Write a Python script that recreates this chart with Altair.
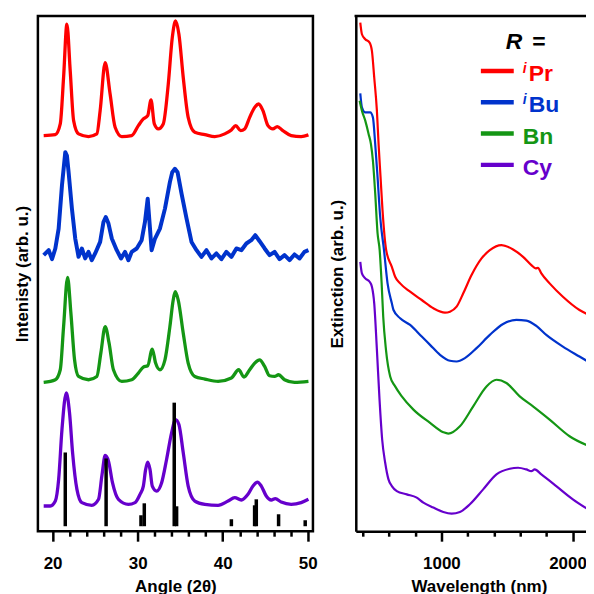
import altair as alt
import pandas as pd

FONT = "Liberation Sans"

# ---------------- series names / colours ----------------
names = ["iPr", "iBu", "Bn", "Cy"]
colors = ["#ff0000", "#0033cc", "#149614", "#6600cc"]
legend_sup = ["i", "i", "", ""]
legend_main = ["Pr", "Bu", "Bn", "Cy"]

# ---------------- XRD patterns (offset, arb. u.) ----------------
ipr_angle = [18.95, 20.32, 20.90, 21.29, 21.68, 22.07, 22.47, 23.05, 24.22, 25.20,
             25.59, 26.18, 26.76, 27.35, 28.13, 29.30, 30.08, 30.67, 31.18, 31.57,
             31.96, 32.43, 33.01, 33.60, 34.07, 34.46, 34.85, 35.36, 35.94, 36.72,
             37.90, 39.07, 40.24, 41.02, 41.53, 42.11, 42.58, 43.17, 43.76, 44.22,
             44.73, 45.32, 45.90, 46.41, 47.07, 48.05, 49.22, 50.08]
ipr_int = [397, 398, 408.7, 455.3, 508.7, 462, 412, 398.7, 396, 398.7,
           422, 470.3, 438.7, 405.3, 396, 397, 407, 413.7, 417, 432.7,
           408.7, 403.7, 408.7, 448.7, 495.3, 512, 498.7, 455.3, 415.3, 400.3,
           398, 396, 398.7, 402.7, 407, 402, 403.7, 415.3, 425.3, 428.7,
           422, 407, 403.7, 406, 402, 397, 396, 397.7]

ibu_angle = [18.95, 19.54, 19.93, 20.32, 20.71, 21.10, 21.49, 21.68, 21.88, 22.27,
             22.66, 23.05, 23.44, 23.83, 24.22, 24.61, 25.00, 25.59, 25.98, 26.25,
             26.57, 26.96, 27.54, 28.05, 28.52, 28.91, 29.30, 29.89, 30.47, 30.86,
             31.18, 31.45, 31.64, 32.04, 32.62, 33.21, 33.79, 34.07, 34.38, 34.69,
             35.16, 35.75, 36.33, 36.92, 37.50, 38.09, 38.68, 39.26, 39.85, 40.43,
             41.02, 41.61, 42.19, 42.78, 43.36, 43.83, 44.34, 44.93, 45.51, 46.10,
             46.68, 47.27, 47.86, 48.44, 49.03, 49.61, 50.08]
ibu_int = [277, 282, 273, 283.7, 303.7, 347, 380.3, 377, 360.3, 323.7,
           293.7, 275.3, 283.7, 273.7, 280.3, 272, 278.7, 290.3, 310.3, 315.3,
           308.7, 293.7, 282, 273.7, 280.3, 272, 280.3, 283.7, 292, 310.3,
           333.7, 303.7, 282, 293.7, 303.7, 323.7, 350.3, 360.3, 363.7, 360.3,
           338.7, 313.7, 290.3, 282, 275.3, 282, 273.7, 278.7, 273, 280.3,
           275.3, 283.7, 282, 288.7, 292, 297, 291, 283.7, 277, 280.3,
           273, 277, 272, 277.7, 273.7, 280.3, 282]

bn_angle = [18.95, 20.32, 20.90, 21.29, 21.76, 22.15, 22.58, 23.05, 24.22, 25.20,
            25.67, 26.18, 26.64, 27.15, 28.13, 29.30, 30.08, 30.67, 31.18, 31.72,
            32.11, 32.62, 33.21, 33.79, 34.18, 34.42, 34.77, 35.36, 35.94, 36.72,
            37.90, 39.46, 41.02, 41.88, 42.50, 43.17, 43.76, 44.34, 44.93, 45.51,
            46.10, 46.57, 47.27, 48.44, 50.08]
bn_int = [149.3, 152, 162, 205.3, 254.7, 218.7, 172, 155.3, 152, 155.3,
          178.7, 205.3, 188.7, 162, 150.3, 152, 158.7, 164.7, 166, 182.7,
          168.7, 162, 172, 205.3, 232, 240.3, 232, 198.7, 168.7, 155.3,
          152.7, 150.3, 153.7, 162, 154.7, 162, 168.7, 172, 165.3, 156,
          155.3, 157, 152, 149.3, 150.3]

cy_angle = [18.95, 19.73, 20.32, 20.71, 21.10, 21.61, 21.99, 22.35, 22.86, 23.44,
            24.61, 25.40, 25.79, 26.18, 26.57, 27.04, 27.74, 28.91, 29.69, 30.28,
            30.67, 30.94, 31.18, 31.45, 31.72, 32.23, 32.82, 33.40, 33.99, 34.46,
            34.85, 35.36, 35.94, 36.72, 37.90, 39.46, 40.63, 41.41, 42.19, 42.97,
            43.56, 44.07, 44.54, 45.12, 45.71, 46.18, 46.88, 48.05, 49.22, 50.08]
cy_int = [25.3, 25.3, 30.3, 52, 102, 138.7, 118.7, 78.7, 42, 28.7,
          26, 32, 55.3, 76, 70.3, 48.7, 32, 27, 28.7, 37,
          45.3, 62, 69.3, 62, 45.3, 40.3, 48.7, 72, 98.7, 112,
          107, 78.7, 45.3, 30.3, 27, 26, 30.3, 33.7, 31.3, 37,
          45.3, 49.3, 45.3, 35.3, 31.3, 32.7, 29.3, 27, 28.7, 32]

# reference pattern sticks
ref_angle = [21.49, 26.29, 30.39, 30.78, 34.30, 34.58, 41.02, 43.75, 43.95, 46.57, 49.70]
ref_top = [79, 73, 16, 28, 129, 25, 12, 26, 32, 17, 11]
ref_base = 5

# ---------------- extinction spectra (offset, arb. u.) ----------------
ipr_wl = [382.5, 395.1, 420.4, 453.3, 471, 488.6, 508.9, 521.5, 536.7, 551.8,
          579.6, 622.6, 647.8, 685.8, 761.6, 850, 938.5, 1026.9, 1064.8, 1115.3,
          1166, 1229, 1305, 1368, 1456.5, 1545, 1621, 1684, 1717, 1734.5,
          1760, 1823, 1924, 2050, 2156.5]
ipr_ext = [511.3, 499.7, 494.7, 491.3, 483, 456.3, 423, 390, 356.3, 323,
           283, 266.3, 256.3, 249.7, 241.3, 233, 224.7, 220.3, 221.3, 226.3,
           239.7, 258, 274.7, 283, 288, 283.7, 276.3, 268, 264.7, 265.3,
           259.7, 249.7, 236.3, 223, 216.3]

ibu_wl = [382.5, 395, 420, 458, 478.5, 496, 514, 534, 563, 590,
          622.6, 635.2, 685.8, 761.6, 850, 913.2, 989, 1064.8, 1115.3, 1178.5,
          1267, 1368, 1469, 1570, 1646, 1722, 1797.6, 1924, 2050, 2156.5]
ibu_ext = [440.3, 426.3, 421.3, 421.3, 416.3, 389.7, 356.3, 316.3, 283, 249.7,
           229.7, 223, 214.7, 208, 196.3, 188, 178, 172, 171.3, 174.7,
           184.7, 198, 209, 213, 212.3, 207, 198, 186.3, 176.3, 168]

bn_wl = [377.5, 395, 420.4, 445.7, 463.4, 478.5, 496.2, 514, 530, 545,
         557, 578, 610, 647.8, 698.4, 786.8, 913.2, 1014.3, 1052, 1140.6,
         1241.7, 1342.8, 1418.6, 1494.4, 1595.5, 1696.5, 1823, 1974.5, 2156.5]
bn_ext = [433, 423, 413, 399.7, 389.7, 373, 339.7, 300, 283, 249.7,
          216.3, 183, 156.3, 146.3, 136.3, 123, 109.7, 100.3, 99, 106.3,
          126.3, 146.3, 153, 149.7, 136.3, 126.3, 113, 96.3, 84.7]

cy_wl = [382.5, 395, 420.4, 453.3, 471, 488.6, 509, 529, 549, 572,
         597, 622.6, 660.5, 736.3, 812, 862.6, 938.5, 1014.3, 1077.4, 1140.6,
         1216.4, 1317.5, 1418.6, 1519.7, 1582.8, 1646, 1684, 1709, 1760, 1873.4,
         1999.8, 2156.5]
cy_ext = [271.3, 259.7, 254.7, 251.3, 246.3, 229.7, 183, 133, 93, 69.7,
          53, 46.3, 41.3, 38, 34.7, 29.7, 24.7, 20.3, 18.7, 20.3,
          28, 43, 58, 63.7, 64.7, 63, 61.3, 63, 58, 46.3,
          33, 19.7]

# ---------------- tables ----------------
def xrd_table(nm, aa, ii):
    return pd.DataFrame({"sample": [nm] * len(aa), "angle": aa, "intensity": ii})

smooth_df = pd.concat([xrd_table("iPr", ipr_angle, ipr_int),
                       xrd_table("Bn", bn_angle, bn_int),
                       xrd_table("Cy", cy_angle, cy_int)], ignore_index=True)
noisy_df = xrd_table("iBu", ibu_angle, ibu_int)

ref_df = pd.DataFrame({"angle": ref_angle, "top": ref_top,
                       "base": [ref_base] * len(ref_angle)})

ext_rows = []
for nm, ww, ee in zip(names, [ipr_wl, ibu_wl, bn_wl, cy_wl],
                      [ipr_ext, ibu_ext, bn_ext, cy_ext]):
    for w, e in zip(ww, ee):
        ext_rows.append({"sample": nm, "wl": w, "ext": e})
ext_df = pd.DataFrame(ext_rows)

color_scale = alt.Scale(domain=names, range=colors)

LW, LH = 276, 517
RW, RH = 238, 517

# ---------------- left panel: XRD ----------------
x_xrd = alt.X("angle:Q", title="Angle (2θ)",
              scale=alt.Scale(domain=[18.27, 50.61], nice=False, zero=False),
              axis=alt.Axis(values=list(range(20, 51, 2)),
                            labelExpr="datum.value % 10 === 0 ? datum.label : ''",
                            labelOverlap=False,
                            tickSize={"condition": {"test": "datum.value % 10 === 0", "value": 10},
                                      "value": 5},
                            domain=False, labelPadding=14, titlePadding=7))
y_xrd_axis = alt.Axis(labels=False, ticks=False, domain=False, titlePadding=6)
y_xrd_scale = alt.Scale(domain=[0, 517], nice=False, zero=False)
y_xrd = alt.Y("intensity:Q", title="Intenisty (arb. u.)", scale=y_xrd_scale, axis=y_xrd_axis)
c_xrd = alt.Color("sample:N", scale=color_scale, legend=None)

smooth_lines = alt.Chart(smooth_df).mark_line(strokeWidth=3.3, interpolate="monotone").encode(
    x=x_xrd, y=y_xrd, color=c_xrd, detail="sample:N")
noisy_line = alt.Chart(noisy_df).mark_line(strokeWidth=4, interpolate="linear",
                                           strokeJoin="round").encode(
    x=x_xrd, y=y_xrd, color=c_xrd, detail="sample:N")
ref_bars = alt.Chart(ref_df).mark_rule(strokeWidth=3.5, color="black").encode(
    x=x_xrd,
    y=alt.Y("top:Q", title="Intenisty (arb. u.)", scale=y_xrd_scale, axis=y_xrd_axis),
    y2="base:Q",
)
left = alt.layer(smooth_lines, noisy_line, ref_bars).properties(
    width=LW, height=LH,
    view=alt.ViewBackground(stroke="black", strokeWidth=2.5),
)

# ---------------- right panel: extinction ----------------
x_ext = alt.X("wl:Q", title="Wavelength (nm)",
              scale=alt.Scale(domain=[348.4, 2152.8], nice=False, zero=False),
              axis=alt.Axis(values=list(range(400, 2001, 200)),
                            labelExpr="datum.value % 1000 === 0 ? format(datum.value, 'd') : ''",
                            labelOverlap=False, labelFlush=25, labelFlushOffset=13.5,
                            tickSize={"condition": {"test": "datum.value % 1000 === 0", "value": 10},
                                      "value": 5},
                            domain=True, labelPadding=14, titlePadding=7,
                            titleX=123.5, titleAlign="center"))
ext_lines = alt.Chart(ext_df).mark_line(strokeWidth=2.2, interpolate="monotone", clip=True).encode(
    x=x_ext,
    y=alt.Y("ext:Q", title="Extinction (arb. u.)",
            scale=alt.Scale(domain=[1, 518], nice=False, zero=False),
            axis=alt.Axis(labels=False, ticks=False, domain=True, titlePadding=9)),
    color=alt.Color("sample:N", scale=color_scale, legend=None),
    detail="sample:N",
)
top_border = alt.Chart(pd.DataFrame({"k": [0]})).mark_rule(
    color="black", strokeWidth=2.5, strokeCap="square").encode(
    x=alt.value(0), x2=alt.value(RW), y=alt.value(0))

legend_layers = []
legend_layers.append(
    alt.Chart(pd.DataFrame({"t": ["R"]})).mark_text(
        align="left", baseline="alphabetic", font=FONT, fontSize=23,
        fontWeight="bold", fontStyle="italic", color="black").encode(
        text="t:N", x=alt.value(150.5), y=alt.value(33.5)))
legend_layers.append(
    alt.Chart(pd.DataFrame({"t": ["="]})).mark_text(
        align="left", baseline="alphabetic", font=FONT, fontSize=23,
        fontWeight="bold", color="black").encode(
        text="t:N", x=alt.value(177), y=alt.value(33.5)))
for i, (sup, main, col) in enumerate(zip(legend_sup, legend_main, colors)):
    yc = 55.2 + 31.4 * i
    legend_layers.append(
        alt.Chart(pd.DataFrame({"t": [main]})).mark_rule(strokeWidth=4.5, color=col).encode(
            x=alt.value(125.5), x2=alt.value(158.5), y=alt.value(yc)))
    legend_layers.append(
        alt.Chart(pd.DataFrame({"t": [main]})).mark_text(
            align="left", baseline="alphabetic", font=FONT, fontSize=23,
            fontWeight="bold", color=col).encode(
            text="t:N", x=alt.value(173.5 if sup else 167.5), y=alt.value(yc + 10)))
    if sup:
        legend_layers.append(
            alt.Chart(pd.DataFrame({"t": [sup]})).mark_text(
                align="left", baseline="alphabetic", font=FONT, fontSize=14,
                fontWeight="bold", fontStyle="italic", color=col).encode(
                text="t:N", x=alt.value(167.5), y=alt.value(yc + 1.8)))

right = alt.layer(ext_lines, top_border, *legend_layers).properties(
    width=RW, height=RH,
    view=alt.ViewBackground(stroke="transparent"),
)

chart = alt.hconcat(left, right, spacing=9).properties(
    padding={"left": 4, "top": 4, "right": -10, "bottom": 0}
).configure_axis(
    labelFont=FONT, labelFontSize=17, labelFontWeight="bold", labelColor="black",
    titleFont=FONT, titleFontSize=17, titleFontWeight="bold", titleColor="black",
    tickColor="black", tickWidth=2.5, domainColor="black", domainWidth=2.5, grid=False,
).configure_view(stroke="transparent")

chart.save("out.html", embed_options={"renderer": "svg", "actions": False})
